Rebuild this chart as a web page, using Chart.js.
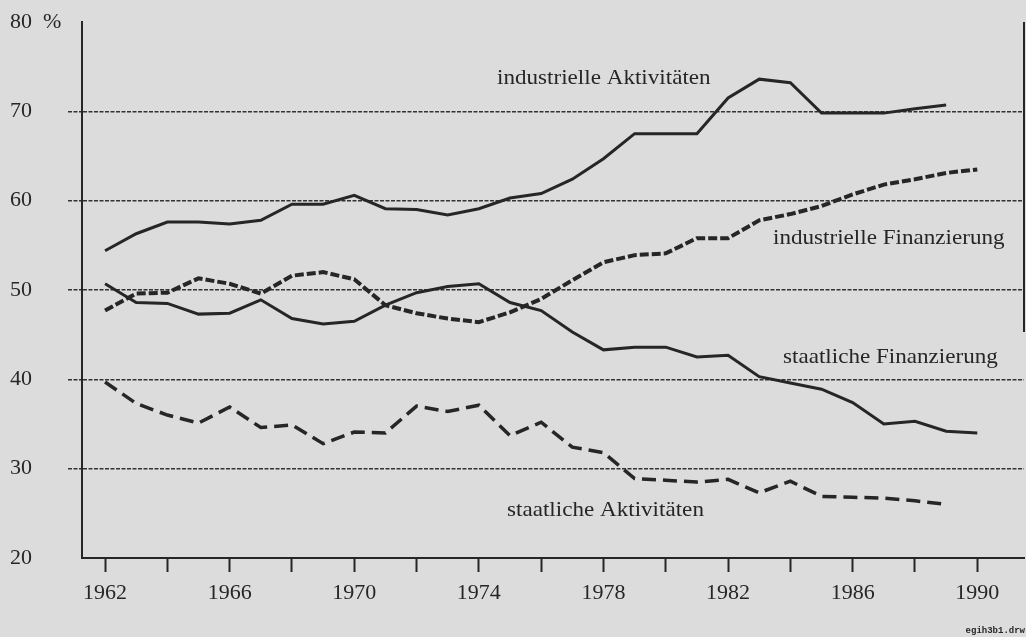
<!DOCTYPE html>
<html>
<head>
<meta charset="utf-8">
<style>
  html, body { margin: 0; padding: 0; background: #dcdcdc; }
  #wrap { width: 1026px; height: 637px; position: relative; }
</style>
<script src="https://cdn.jsdelivr.net/npm/chart.js@4"></script>
</head>
<body>
<div id="wrap"><canvas id="myChart" width="1026" height="637"></canvas></div>
<script>
// Jahre und Anteile in %
const years = [1962, 1963, 1964, 1965, 1966, 1967, 1968, 1969, 1970, 1971, 1972, 1973, 1974, 1975,
  1976, 1977, 1978, 1979, 1980, 1981, 1982, 1983, 1984, 1985, 1986, 1987, 1988, 1989, 1990];
const industrielleAktivitaeten = [54.4, 56.3, 57.6, 57.6, 57.4, 57.8, 59.6, 59.6, 60.6, 59.1, 59.0, 58.4, 59.1, 60.3,
  60.8, 62.4, 64.7, 67.5, 67.5, 67.5, 71.5, 73.6, 73.2, 69.8, 69.8, 69.8, 70.3, 70.7];
const industrielleFinanzierung = [47.7, 49.6, 49.7, 51.3, 50.7, 49.6, 51.6, 52.0, 51.2, 48.3, 47.4, 46.8, 46.4, 47.5,
  49.0, 51.1, 53.1, 53.9, 54.1, 55.8, 55.8, 57.8, 58.5, 59.4, 60.7, 61.8, 62.4, 63.1, 63.5];
const staatlicheFinanzierung = [50.7, 48.6, 48.5, 47.3, 47.4, 48.9, 46.8, 46.2, 46.5, 48.3, 49.7, 50.4, 50.7, 48.6,
  47.7, 45.3, 43.3, 43.6, 43.6, 42.5, 42.7, 40.3, 39.6, 38.9, 37.4, 35.0, 35.3, 34.2, 34.0];
const staatlicheAktivitaeten = [39.7, 37.3, 36.0, 35.1, 36.9, 34.6, 34.9, 32.8, 34.1, 34.0, 37.0, 36.4, 37.1, 33.7,
  35.2, 32.4, 31.8, 28.9, 28.7, 28.5, 28.8, 27.3, 28.6, 26.9, 26.8, 26.7, 26.4, 26.0];
const xTicks = [1962, 1964, 1966, 1968, 1970, 1972, 1974, 1976, 1978, 1980, 1982, 1984, 1986, 1988, 1990];
const yTicks = [20, 30, 40, 50, 60, 70, 80];

const ink = '#262626';
const serif = '"Liberation Serif", "DejaVu Serif", serif';

function toPoints(values) {
    return values.map((v, i) => ({ x: years[i], y: v }));
}

// Beschriftungen der Kurven (Pixelpositionen)
const curveLabels = [
    { text: 'industrielle Aktivitäten', x: 497, y: 78 },
    { text: 'industrielle Finanzierung', x: 773, y: 238 },
    { text: 'staatliche Finanzierung', x: 783, y: 357 },
    { text: 'staatliche Aktivitäten', x: 507, y: 510 }
];

const decorPlugin = {
    id: 'decor',
    afterDraw(chart) {
        const ctx = chart.ctx;
        const area = chart.chartArea;
        const yScale = chart.scales.y;
        ctx.save();
        // rechte Begrenzung (nur oberer Teil sichtbar)
        ctx.strokeStyle = ink;
        ctx.lineWidth = 2;
        ctx.beginPath();
        ctx.moveTo(area.right, area.top);
        ctx.lineTo(area.right, yScale.getPixelForValue(45.3));
        ctx.stroke();
        // Kurvenbeschriftungen
        ctx.fillStyle = ink;
        ctx.font = '21px ' + serif;
        ctx.textBaseline = 'middle';
        ctx.textAlign = 'left';
        curveLabels.forEach(l => {
            ctx.save();
            ctx.translate(l.x, l.y);
            ctx.scale(1.1, 1);
            ctx.fillText(l.text, 0, 0);
            ctx.restore();
        });
        // Dateiname unten rechts
        ctx.font = 'bold 9px "Liberation Mono", monospace';
        ctx.textAlign = 'right';
        ctx.fillText('egih3b1.drw', 1025, 631);
        ctx.restore();
    }
};

const ctx = document.getElementById('myChart').getContext('2d');
const myChart = new Chart(ctx, {
    type: 'line',
    data: {
        datasets: [
            {
                label: 'industrielle Aktivitäten',
                data: toPoints(industrielleAktivitaeten),
                borderColor: ink,
                borderWidth: 3
            },
            {
                label: 'industrielle Finanzierung',
                data: toPoints(industrielleFinanzierung),
                borderColor: ink,
                borderWidth: 4,
                borderDash: [9, 3]
            },
            {
                label: 'staatliche Finanzierung',
                data: toPoints(staatlicheFinanzierung),
                borderColor: ink,
                borderWidth: 3
            },
            {
                label: 'staatliche Aktivitäten',
                data: toPoints(staatlicheAktivitaeten),
                borderColor: ink,
                borderWidth: 3.5,
                borderDash: [14, 7]
            }
        ]
    },
    options: {
        responsive: false,
        animation: false,
        events: [],
        layout: { padding: { left: 10, top: 22, right: 2, bottom: 0 } },
        elements: { point: { radius: 0 }, line: { tension: 0 } },
        plugins: { legend: { display: false }, tooltip: { enabled: false } },
        scales: {
            x: {
                type: 'linear',
                min: 1961.26,
                max: 1991.5,
                afterBuildTicks: scale => { scale.ticks = xTicks.map(v => ({ value: v })); },
                afterFit: scale => { scale.height = 79; },
                grid: { drawOnChartArea: false, drawTicks: true, tickLength: 14, tickColor: ink, tickWidth: 2 },
                border: { display: true, color: ink, width: 2 },
                ticks: {
                    autoSkip: false,
                    maxRotation: 0,
                    padding: 8,
                    color: ink,
                    font: { family: serif, size: 22 },
                    callback: v => ((v - 1962) % 4 === 0 ? String(v) : '')
                }
            },
            y: {
                min: 20,
                max: 80,
                afterBuildTicks: scale => { scale.ticks = yTicks.map(v => ({ value: v })); },
                afterFit: scale => { scale.width = 72; },
                grid: {
                    color: c => (c.tick && (c.tick.value === 20 || c.tick.value === 80) ? 'rgba(0,0,0,0)' : '#333'),
                    tickColor: c => (c.tick && (c.tick.value === 20 || c.tick.value === 80) ? 'rgba(0,0,0,0)' : '#333'),
                    lineWidth: 1.5,
                    tickWidth: 1.5,
                    tickLength: 14,
                    tickBorderDash: [4, 1.5]
                },
                border: { display: true, color: ink, width: 2, dash: [4, 1.5] },
                ticks: {
                    crossAlign: 'far',
                    color: ink,
                    font: { family: serif, size: 22 },
                    callback: v => (v === 80 ? '80  %' : String(v))
                }
            }
        }
    },
    plugins: [decorPlugin]
});
</script>
</body>
</html>
